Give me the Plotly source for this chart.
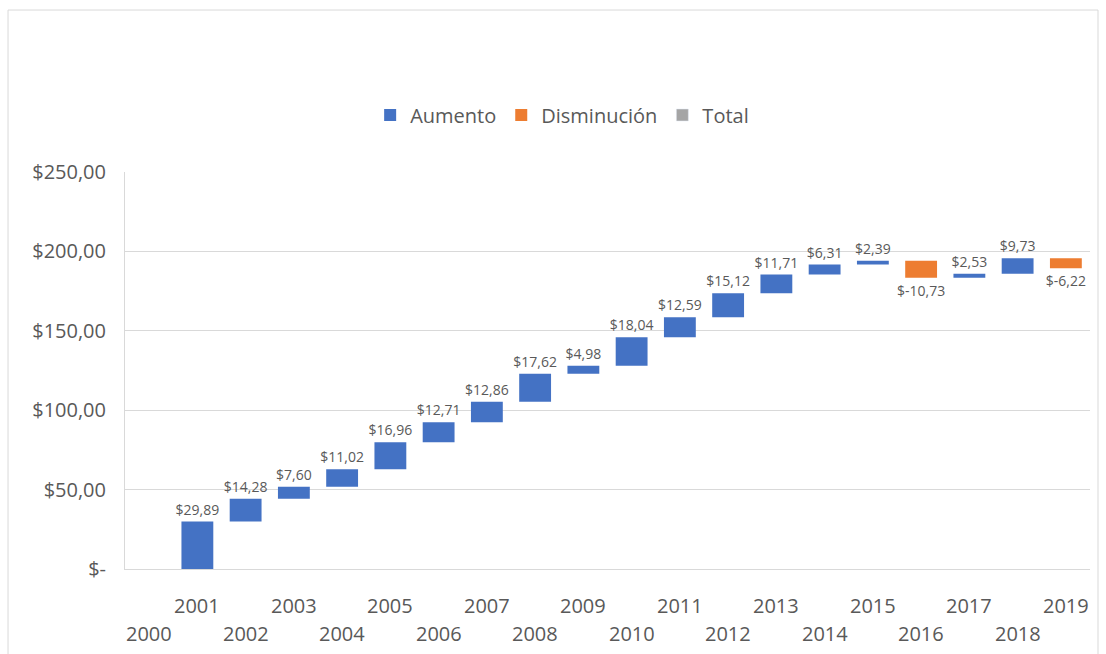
import plotly.graph_objects as go

# Annual changes (waterfall steps)
years = [str(y) for y in range(2000, 2020)]
changes = [0, 29.89, 14.28, 7.60, 11.02, 16.96, 12.71, 12.86, 17.62, 4.98,
           18.04, 12.59, 15.12, 11.71, 6.31, 2.39, -10.73, 2.53, 9.73, -6.22]
y_ticks = [0, 50, 100, 150, 200, 250]
y_tick_labels = ["$-", "$50,00", "$100,00", "$150,00", "$200,00", "$250,00"]

BLUE = "#4472C4"
ORANGE = "#ED7D31"
GRAY = "#A5A5A5"
TEXT = "#595959"
FONT = "Open Sans"


def money(v):
    s = f"{abs(v):.2f}".replace(".", ",")
    return f"$-{s}" if v < 0 else f"${s}"


# running start of each step
starts = []
acc = 0.0
for c in changes:
    starts.append(acc)
    acc += c

up_x, up_base, up_y, up_text = [], [], [], []
dn_x, dn_base, dn_y, dn_text = [], [], [], []
for yr, s, c in zip(years, starts, changes):
    if c > 0:
        up_x.append(yr); up_base.append(s); up_y.append(c); up_text.append(money(c))
    elif c < 0:
        dn_x.append(yr); dn_base.append(s); dn_y.append(c); dn_text.append(money(c))

common = dict(textposition="outside", cliponaxis=False, constraintext="none",
              textfont=dict(family=FONT, size=14, color=TEXT))

fig = go.Figure()
fig.add_trace(go.Bar(name="Aumento", x=up_x, y=up_y, base=up_base, text=up_text,
                     marker=dict(color=BLUE, line=dict(width=0)), **common))
fig.add_trace(go.Bar(name="Disminución", x=dn_x, y=dn_y, base=dn_base, text=dn_text,
                     marker=dict(color=ORANGE, line=dict(width=0)), **common))
fig.add_trace(go.Bar(name="Total", x=[years[0]], y=[None],
                     marker=dict(color=GRAY)))

# staggered category labels: odd years upper row, even years lower row
annotations = []
for i, yr in enumerate(years):
    annotations.append(dict(
        x=i, xref="x", y=0, yref="paper", text=yr, showarrow=False,
        xanchor="center", yanchor="middle", yshift=-36 if i % 2 == 1 else -64,
        font=dict(family=FONT, size=20, color=TEXT)))

fig.update_layout(
    width=1106, height=654,
    margin=dict(l=125, r=16, t=172, b=85),
    paper_bgcolor="white", plot_bgcolor="white",
    barmode="overlay", bargap=0.34,
    font=dict(family=FONT, size=20, color=TEXT),
    showlegend=True,
    legend=dict(orientation="h", x=0.453, xanchor="center", y=1.1436, yanchor="middle",
                font=dict(family=FONT, size=20, color=TEXT), traceorder="normal",
                itemwidth=30),
    xaxis=dict(type="category", categoryorder="array", categoryarray=years,
               range=[-0.5, len(years) - 0.5], showticklabels=False, ticks="",
               showgrid=False, showline=True, linecolor="#D9D9D9", linewidth=1,
               zeroline=False),
    yaxis=dict(range=[0, 250], tickvals=y_ticks, ticktext=y_tick_labels,
               showgrid=True, gridcolor="#D9D9D9", gridwidth=1,
               showline=True, linecolor="#D9D9D9", linewidth=1, zeroline=False,
               ticks="", ticklabelstandoff=14,
               tickfont=dict(family=FONT, size=20, color=TEXT)),
    annotations=annotations,
    shapes=[dict(type="rect", xref="paper", yref="paper",
                 x0=-0.1212, x1=1.0083, y0=-0.25, y1=1.408,
                 line=dict(color="#D9D9D9", width=1), fillcolor="rgba(0,0,0,0)")],
)

fig.write_html("out.html")
